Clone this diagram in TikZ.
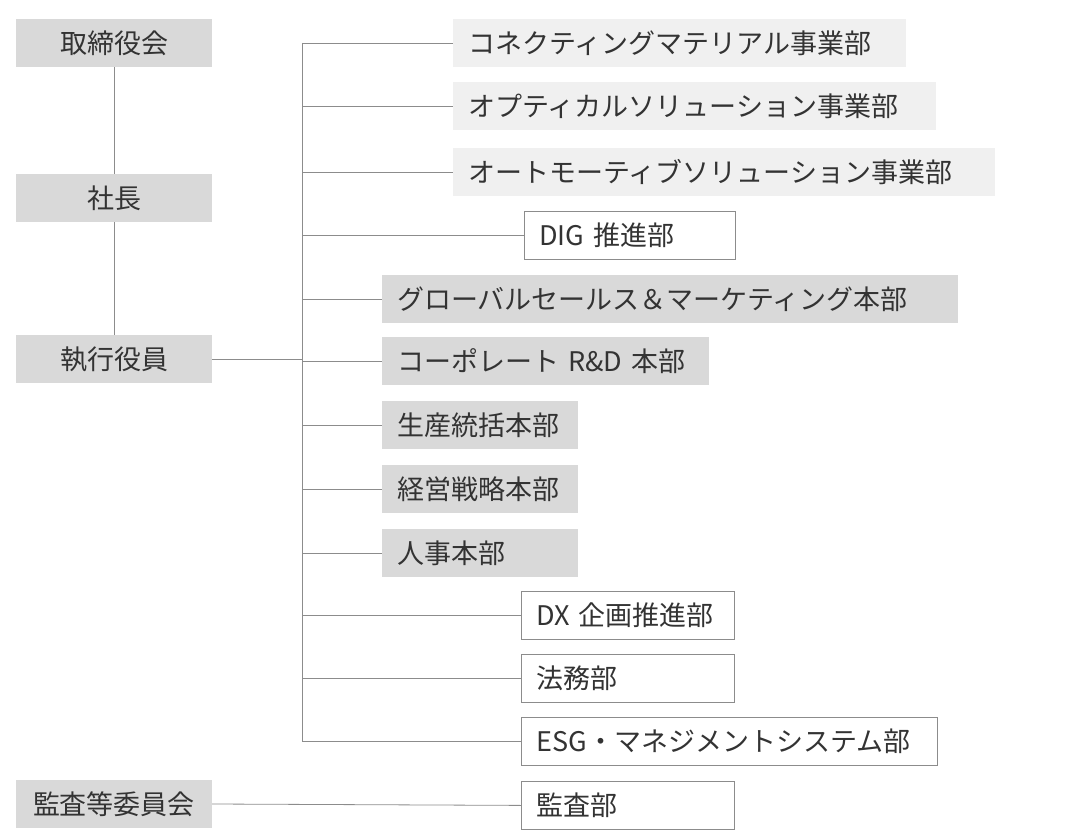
\documentclass[tikz,border=0pt]{standalone}
\usepackage{fontspec}
\setmainfont{Noto Sans CJK JP}
\begin{document}
\begin{tikzpicture}[x=1pt,y=-1pt,
 base/.style={inner sep=0pt,font=\fontsize{27}{30}\selectfont,text=black!80},
 leftbox/.style={base,fill=black!15,minimum width=196pt,minimum height=48pt,align=center},
 rbox/.style={base,anchor=north west,text width=#1-30pt,inner xsep=15pt,minimum height=48pt,align=left},
 light/.style={fill=black!6},
 gray/.style={fill=black!15},
 white/.style={draw=black!45,line width=0.8pt,fill=white},
 conn/.style={draw=black!45,line width=0.8pt}]
\useasboundingbox (0,0) rectangle (1080,840);
\node[leftbox] (a) at (114,43) {取締役会};
\node[leftbox] (b) at (114,198) {社長};
\node[leftbox] (c) at (114,359) {執行役員};
\node[leftbox] (d) at (114,804) {監査等委員会};
\draw[conn] (a) -- (b); \draw[conn] (b) -- (c);
\node[rbox=453pt,light] (r1) at (453,19) {コネクティングマテリアル事業部};
\node[rbox=483pt,light] (r2) at (453,82) {オプティカルソリューション事業部};
\node[rbox=542pt,light] (r3) at (453,148) {オートモーティブソリューション事業部};
\node[rbox=211pt,white] (r4) at (524,211) {DIG 推進部};
\node[rbox=576pt,gray] (r5) at (382,275) {グローバルセールス＆マーケティング本部};
\node[rbox=327pt,gray] (r6) at (382,337) {コーポレート R\&D 本部};
\node[rbox=196pt,gray] (r7) at (382,401) {生産統括本部};
\node[rbox=196pt,gray] (r8) at (382,465) {経営戦略本部};
\node[rbox=196pt,gray] (r9) at (382,529) {人事本部};
\node[rbox=213pt,white] (r10) at (521,591) {DX 企画推進部};
\node[rbox=213pt,white] (r11) at (521,654) {法務部};
\node[rbox=416pt,white] (r12) at (521,717) {ESG・マネジメントシステム部};
\node[rbox=213pt,white] (r13) at (521,781) {監査部};
\coordinate (t1) at (302,43);
\coordinate (t12) at (302,741);
\draw[conn] (t1) -- (t12);
\draw[conn] (c.east) -- (c.east -| t1);
\foreach \i in {1,...,12}{\draw[conn] (r\i.west -| t1) -- (r\i.west);}
\draw[conn] (d.east) -- (r13.west);
\end{tikzpicture}
\end{document}
